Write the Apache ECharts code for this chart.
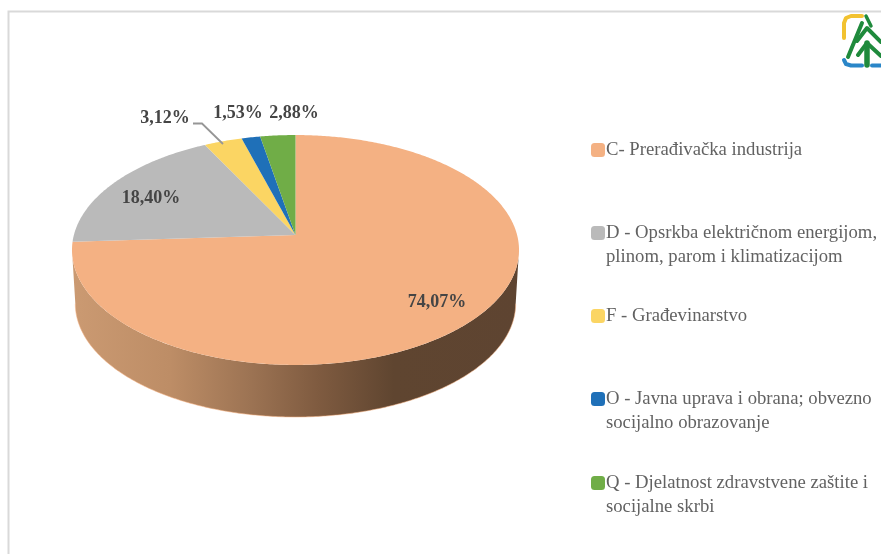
<!DOCTYPE html>
<html><head><meta charset="utf-8">
<style>html,body{margin:0;padding:0;background:#fff}#c{width:881px;height:554px;filter:blur(0.4px)}</style>
<script src="https://cdn.jsdelivr.net/npm/echarts@6/dist/echarts.min.js"></script>
</head><body><div id="c"></div>
<script>
const categories = ['C- Prerađivačka industrija','D - Opsrkba električnom energijom, plinom, parom i klimatizacijom','F - Građevinarstvo','O - Javna uprava i obrana; obvezno socijalno obrazovanje','Q - Djelatnost zdravstvene zaštite i socijalne skrbi'];
const legendLines = [['C- Prerađivačka industrija'],['D - Opsrkba električnom energijom,','plinom, parom i klimatizacijom'],['F - Građevinarstvo'],['O - Javna uprava i obrana; obvezno','socijalno obrazovanje'],['Q - Djelatnost zdravstvene zaštite i','socijalne skrbi']];
const values = [74.07,18.40,3.12,1.53,2.88];
const labels = ['74,07%','18,40%','3,12%','1,53%','2,88%'];
const colors = ['#f4b183','#bababa','#fbd563','#1f70b8','#70ad47'];

// Perspective disc geometry
const CX=295.5, AY=235, A=221.6, B=113, K=0.3/2.3, DEPTH=54, BS=0.985;
const labelPos=[[437,302],[151,198],[165,118],[238,113],[294,113]];
const legendTop=[150,233,316,399,483];
const total=values.reduce((a,b)=>a+b,0);
const startAngle=(i)=>values.slice(0,i).reduce((a,b)=>a+b,0)/total*2*Math.PI;
function rim(t,scale,dy){
  const w=1+K*Math.cos(t);
  return [CX+scale*A*Math.sin(t)/w, AY+dy-scale*B*Math.cos(t)/w];
}
function arc(a,b,scale,dy){
  const n=Math.max(2,Math.ceil(Math.abs(b-a)/0.01)),p=[];
  for(let i=0;i<=n;i++)p.push(rim(a+(b-a)*i/n,scale,dy));
  return p;
}
const FRONT0=Math.acos(-K), FRONT1=2*Math.PI-Math.acos(-K);
const wallGradient={type:'linear',x:0,y:0,x2:1,y2:0,colorStops:[
  {offset:0,color:'#cb9a72'},{offset:0.22,color:'#bd8d66'},{offset:0.4,color:'#9c7353'},{offset:0.55,color:'#7f5b40'},{offset:0.72,color:'#5f4530'},{offset:1,color:'#5e4431'}]};

const series=categories.map((name,i)=>({
  name,type:'custom',coordinateSystem:'none',silent:true,
  itemStyle:{color:colors[i]},
  data:[[values[i]]],
  renderItem(params,api){
    const val=api.value(0);
    const a0=startAngle(i), a1=a0+val/total*2*Math.PI;
    const children=[];
    const w0=Math.max(a0,FRONT0), w1=Math.min(a1,FRONT1);
    if(w1>w0){
      const top=arc(w0,w1,1,0), bot=arc(w0,w1,BS,DEPTH);
      children.push({type:'polygon',shape:{points:top.concat(bot.slice().reverse())},style:{fill:wallGradient}});
      children.push({type:'polyline',shape:{points:bot},style:{fill:null,stroke:colors[i],lineWidth:0.8,opacity:0.7}});
    }
    children.push({type:'polygon',z2:5,shape:{points:[[CX,AY]].concat(arc(a0,a1,1,0))},style:{fill:colors[i]}});
    return {type:'group',children};
  }
}));

// Data labels and leader line on a top layer series
series.push({
  type:'custom',coordinateSystem:'none',silent:true,z:10,
  data:labels.map((l,i)=>[i]),
  renderItem(params,api){
    const i=api.value(0);
    const kids=[{type:'text',x:labelPos[i][0],y:labelPos[i][1],style:{text:labels[i],fill:'#454545',font:'bold 18px "Liberation Serif"',align:'center',verticalAlign:'middle'}}];
    if(i===2)kids.push({type:'polyline',shape:{points:[[193,123.5],[202,123.5],[223,144]]},style:{fill:null,stroke:'#969696',lineWidth:1.8}});
    return {type:'group',children:kids};
  }
});

const logo=[
  {d:[[844,38],[844,23],[846,18],[851,16],[862,16]],c:'#f2c230',w:4},
  {d:[[844,60],[846,64],[851,65.5],[862,65.5]],c:'#2a86c8',w:4},
  {d:[[872,65.5],[881,65.5]],c:'#2a86c8',w:4},
  {d:[[867,43],[867,65]],c:'#1f8a3c',w:5.5},
  {d:[[862,23],[848,57]],c:'#1f8a3c',w:4},
  {d:[[857,41],[867,28],[881,42]],c:'#1f8a3c',w:4},
  {d:[[858,55],[867,43],[881,56]],c:'#1f8a3c',w:4},
  {d:[[866,16],[871,26]],c:'#1f8a3c',w:3.5}
];

const chart=echarts.init(document.getElementById('c'),null,{renderer:'canvas'});
chart.setOption({
  animation:false,backgroundColor:'#fff',
  legend:categories.map((name,i)=>({
    data:[name],orient:'vertical',left:591,
    top:legendTop[i]-(legendLines[i].length>1?36:12),
    padding:0,itemWidth:14,itemHeight:14,selectedMode:false,
    icon:'roundRect',
    formatter:()=>legendLines[i].length>1?'\n'+legendLines[i].join('\n'):legendLines[i][0],
    textStyle:{color:'#626262',fontFamily:'Liberation Serif',fontSize:18.7,lineHeight:24,padding:[0,0,0,-4]}
  })),
  graphic:[
    {type:'polyline',shape:{points:[[8.5,554],[8.5,11.5],[881,11.5]]},style:{fill:null,stroke:'#d9d9d9',lineWidth:2}}
  ].concat(logo.map(s=>({type:'polyline',shape:{points:s.d},style:{fill:null,stroke:s.c,lineWidth:s.w,lineCap:'round',lineJoin:'round'}}))),
  series
});
</script></body></html>
